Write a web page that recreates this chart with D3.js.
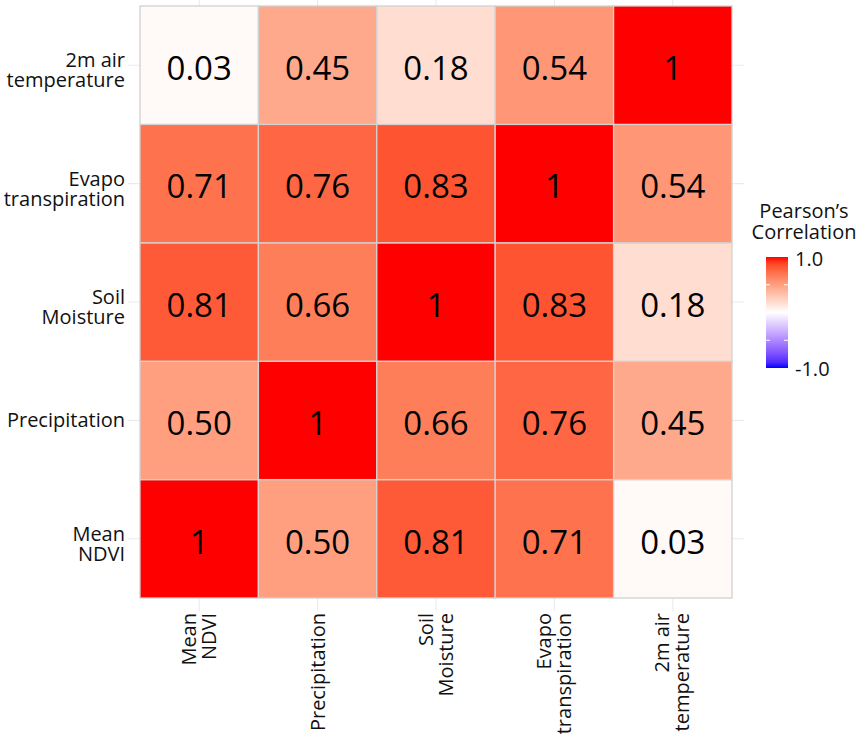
<!DOCTYPE html>
<html>
<head>
<meta charset="utf-8">
<script src="https://cdn.jsdelivr.net/npm/d3@7"></script>
<style>
  body { margin: 0; background: #fff; }
  text { font-family: "Open Sans", sans-serif; }
</style>
</head>
<body>
<div class="canvas"></div>
<script>
var width = 858,
    height = 734;

// variables, in the order they appear on the x axis (bottom to top on y)
var variables = ["Mean NDVI", "Precipitation", "Soil Moisture", "Evapo transpiration", "2m air temperature"];
// how each name is split on the axes
var labelLines = {
    "Mean NDVI": ["Mean", "NDVI"],
    "Precipitation": ["Precipitation"],
    "Soil Moisture": ["Soil", "Moisture"],
    "Evapo transpiration": ["Evapo", "transpiration"],
    "2m air temperature": ["2m air", "temperature"]
};
// correlation rows, one per variable, same order as variables
var meanNdvi     = [1.00, 0.50, 0.81, 0.71, 0.03];
var precip       = [0.50, 1.00, 0.66, 0.76, 0.45];
var soilMoisture = [0.81, 0.66, 1.00, 0.83, 0.18];
var evapo        = [0.71, 0.76, 0.83, 1.00, 0.54];
var airTemp      = [0.03, 0.45, 0.18, 0.54, 1.00];
var legendTicks = [-1, -0.5, 0, 0.5, 1];
var legendLabels = ["-1.0", "1.0"];

var rows = [meanNdvi, precip, soilMoisture, evapo, airTemp];

var cells = [];
rows.forEach(function(r, i) {
    r.forEach(function(v, j) {
        cells.push({ y: variables[i], x: variables[j], value: v });
    });
});

var svg = d3.select(".canvas").append("svg")
    .attr("width", width)
    .attr("height", height);

var plotLeft = 140, plotTop = 6, side = 592;
var labelSize = 20;

var x = d3.scaleBand().domain(variables).range([plotLeft, plotLeft + side]);
var y = d3.scaleBand().domain(variables.slice().reverse()).range([plotTop, plotTop + side]);

var color = d3.scaleLinear()
    .domain([-1, 0, 1])
    .range(["#0000ff", "#ffffff", "#ff0000"])
    .interpolate(d3.interpolateLab);

// panel grid lines (stick out a little past the tiles)
var grid = svg.append("g");
variables.forEach(function(v) {
    grid.append("line")
        .attr("x1", x(v) + x.bandwidth() / 2)
        .attr("x2", x(v) + x.bandwidth() / 2)
        .attr("y1", plotTop - 12)
        .attr("y2", plotTop + side + 13)
        .attr("stroke", "#ebebeb")
        .attr("stroke-width", 1.1);
    grid.append("line")
        .attr("y1", y(v) + y.bandwidth() / 2)
        .attr("y2", y(v) + y.bandwidth() / 2)
        .attr("x1", plotLeft - 12)
        .attr("x2", plotLeft + side + 12)
        .attr("stroke", "#ebebeb")
        .attr("stroke-width", 1.1);
});

// tiles
svg.append("g").selectAll("rect")
    .data(cells)
    .join("rect")
    .attr("x", function(d) { return x(d.x); })
    .attr("y", function(d) { return y(d.y); })
    .attr("width", x.bandwidth())
    .attr("height", y.bandwidth())
    .attr("fill", function(d) { return color(d.value); })
    .attr("stroke", "#d2d2d2")
    .attr("stroke-width", 1.3);

var fmt = d3.format(".2f");
svg.append("g").selectAll("text")
    .data(cells)
    .join("text")
    .attr("x", function(d) { return x(d.x) + x.bandwidth() / 2; })
    .attr("y", function(d) { return y(d.y) + y.bandwidth() / 2 + 3; })
    .attr("dy", "0.36em")
    .attr("text-anchor", "middle")
    .attr("font-size", 33)
    .attr("fill", "#000")
    .text(function(d) { return d.value === 1 ? "1" : fmt(d.value); });

// y axis labels
variables.forEach(function(v) {
    var lines = labelLines[v];
    var cy = y(v) + y.bandwidth() / 2;
    var t = svg.append("text")
        .attr("text-anchor", "end")
        .attr("font-size", labelSize)
        .attr("fill", "#111");
    lines.forEach(function(l, k) {
        var base = lines.length === 1 ? cy + 7 : cy + 2 + k * 20;
        t.append("tspan").attr("x", 125).attr("y", base).text(l);
    });
});

// x axis labels (rotated)
variables.forEach(function(v) {
    var lines = labelLines[v];
    var cx = x(v) + x.bandwidth() / 2;
    var t = svg.append("text")
        .attr("text-anchor", "end")
        .attr("font-size", labelSize)
        .attr("fill", "#111")
        .attr("transform", "translate(" + cx + "," + 613 + ") rotate(-90)");
    lines.forEach(function(l, k) {
        var off = lines.length === 1 ? 7 : -3.5 + k * 20;
        t.append("tspan").attr("x", 0).attr("y", off).text(l);
    });
});

// legend
var legend = svg.append("g");
legend.append("text")
    .attr("x", 804).attr("y", 218)
    .attr("text-anchor", "middle")
    .attr("font-size", labelSize)
    .attr("fill", "#111")
    .text("Pearson\u2019s");
legend.append("text")
    .attr("x", 804).attr("y", 239)
    .attr("text-anchor", "middle")
    .attr("font-size", labelSize)
    .attr("fill", "#111")
    .text("Correlation");

var barX = 766, barW = 22;
var ly = d3.scaleLinear().domain([-1, 1]).range([368, 257]);

var grad = svg.append("defs").append("linearGradient")
    .attr("id", "corrGrad")
    .attr("x1", 0).attr("x2", 0).attr("y1", 1).attr("y2", 0);
d3.range(0, 1.0001, 0.05).forEach(function(t) {
    grad.append("stop")
        .attr("offset", t)
        .attr("stop-color", color(-1 + 2 * t));
});
legend.append("rect")
    .attr("x", barX).attr("y", ly(1))
    .attr("width", barW).attr("height", ly(-1) - ly(1))
    .attr("fill", "url(#corrGrad)");

legendTicks.filter(function(t) { return Math.abs(t) === 0.5; }).forEach(function(t) {
    legend.append("line")
        .attr("x1", barX).attr("x2", barX + 4)
        .attr("y1", ly(t)).attr("y2", ly(t))
        .attr("stroke", "#fff").attr("stroke-width", 1);
    legend.append("line")
        .attr("x1", barX + barW - 4).attr("x2", barX + barW)
        .attr("y1", ly(t)).attr("y2", ly(t))
        .attr("stroke", "#fff").attr("stroke-width", 1);
});

legend.append("text")
    .attr("x", 795).attr("y", ly(1) + 9)
    .attr("font-size", labelSize)
    .attr("fill", "#111")
    .text(legendLabels[1]);
legend.append("text")
    .attr("x", 795).attr("y", ly(-1) + 8)
    .attr("font-size", labelSize)
    .attr("fill", "#111")
    .text(legendLabels[0]);
</script>
</body>
</html>
